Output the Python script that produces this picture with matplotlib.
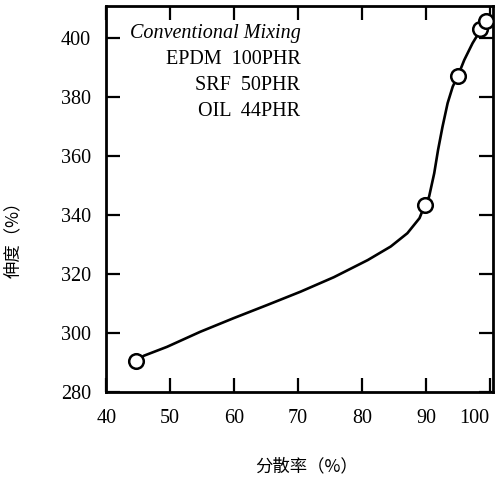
import matplotlib
matplotlib.use("Agg")
import matplotlib.pyplot as plt

# measured points (dispersion %, elongation %)
disp = [44.6, 89.8, 95.0, 98.5, 99.4]
elong = [290.6, 343.2, 387.1, 402.9, 405.8]

# hand-drawn curve
curve_x = [44.6, 45.9, 49.5, 54.7, 59.9, 65.2, 70.4, 75.6, 80.9, 84.5, 87.1, 89.0,
           89.8, 90.5, 91.3, 91.9, 92.6, 93.4, 94.2, 95.0, 96.0, 97.3, 98.4, 98.9]
curve_y = [290.6, 292.3, 295.3, 300.4, 305.0, 309.5, 314.0, 318.9, 324.7, 329.3, 333.8, 338.9,
           343.2, 346.2, 354.1, 362.0, 369.9, 377.9, 383.5, 387.1, 392.5, 398.2, 402.1, 404.0]

xticks = [40, 50, 60, 70, 80, 90, 100]
yticks = [280, 300, 320, 340, 360, 380, 400]
notes = ["Conventional Mixing", "EPDM  100PHR", "SRF  50PHR", "OIL  44PHR"]

serif = ["Liberation Serif", "DejaVu Serif"]
cjk = ["Noto Sans CJK SC", "DejaVu Sans"]

fig = plt.figure(figsize=(4.97, 4.83), dpi=100)
ax = fig.add_axes([0.2138, 0.1884, 0.7782, 0.7992])

ax.plot(curve_x, curve_y, color="black", lw=1.9, solid_joinstyle="round", zorder=2)
ax.plot(disp, elong, "o", ms=10.5, mfc="white", mec="black", mew=1.8, zorder=3)

ax.set_xlim(40, 100.5)
ax.set_ylim(280, 410.8)
ax.set_xticks(xticks)
ax.set_yticks(yticks)
ax.tick_params(direction="in", length=10, width=1.6, top=True, right=True, labelsize=14.5)
ax.tick_params(axis="x", pad=12)
ax.tick_params(axis="y", pad=11)
for lab in ax.get_xticklabels() + ax.get_yticklabels():
    lab.set_family(serif)
# last label sits right at the figure edge, as in the original
ax.get_xticklabels()[-1].set_horizontalalignment("right")
ax.get_xticklabels()[-1].set_x(101.0)
for s in ax.spines.values():
    s.set_linewidth(2.0)

ys = [0.930, 0.862, 0.795, 0.727]
for i, t in enumerate(notes):
    ax.text(0.502, ys[i], t, transform=ax.transAxes, ha="right", va="center",
            fontsize=14.5, family=serif, style="italic" if i == 0 else "normal")

fig.text(0.616, 0.035, "分散率（%）", ha="center", va="center", fontsize=12.5, family=cjk)
fig.text(0.027, 0.512, "伸度（%）", ha="center", va="center", rotation=90, fontsize=12.5, family=cjk)

fig.savefig("out.png", dpi=100)
